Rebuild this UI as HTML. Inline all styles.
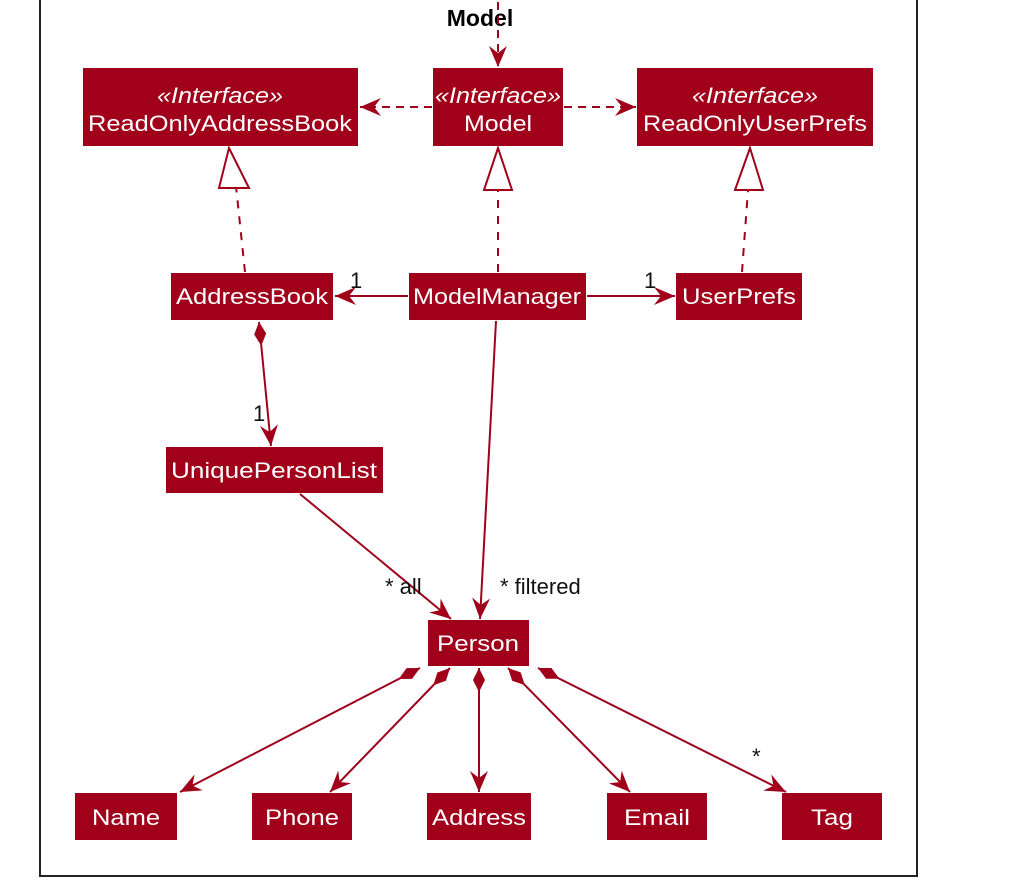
<!DOCTYPE html>
<html><head><meta charset="utf-8"><style>
html,body{margin:0;padding:0;background:#fff;width:1028px;height:896px;overflow:hidden}
text{font-family:"Liberation Sans",sans-serif}
</style></head><body>
<svg width="1028" height="896" viewBox="0 0 1028 896" xmlns="http://www.w3.org/2000/svg">
<defs>
<marker id="open" viewBox="0 0 22 22" refX="21" refY="11" markerWidth="22" markerHeight="22" markerUnits="userSpaceOnUse" orient="auto">
<path d="M0,2 L21,11 L0,20 L7,11 Z" fill="#A0001A"/>
</marker>
<marker id="dia" viewBox="0 0 24 12" refX="0" refY="6" markerWidth="24" markerHeight="12" markerUnits="userSpaceOnUse" orient="auto">
<path d="M0,6 L12,0 L24,6 L12,12 Z" fill="#A0001A"/>
</marker>
</defs>
<rect x="40" y="-5" width="877" height="881" fill="#fff" stroke="#222" stroke-width="2"/>
<text x="480" y="26" font-size="23" font-weight="bold" text-anchor="middle">Model</text>
<g stroke="#A0001A" stroke-width="2" fill="none">
<line x1="498" y1="2" x2="498" y2="67" stroke-dasharray="8,6" marker-end="url(#open)"/>
<line x1="432" y1="107" x2="360" y2="107" stroke-dasharray="8,6" marker-end="url(#open)"/>
<line x1="564" y1="107" x2="636" y2="107" stroke-dasharray="8,6" marker-end="url(#open)"/>
<line x1="245" y1="272" x2="236" y2="186" stroke-dasharray="8,8"/>
<line x1="498" y1="272" x2="498" y2="190" stroke-dasharray="8,8"/>
<line x1="742" y1="272" x2="748" y2="190" stroke-dasharray="8,8"/>
<path d="M229,148 L219,188 L249,188 Z" fill="#fff"/>
<path d="M498,148 L484,190 L512,190 Z" fill="#fff"/>
<path d="M750,148 L735,190 L763,190 Z" fill="#fff"/>
<line x1="408" y1="296" x2="335" y2="296" marker-end="url(#open)"/>
<line x1="587" y1="296" x2="675" y2="296" marker-end="url(#open)"/>
<line x1="259" y1="322" x2="271" y2="446" marker-start="url(#dia)" marker-end="url(#open)"/>
<line x1="300" y1="494" x2="451" y2="619" marker-end="url(#open)"/>
<line x1="496" y1="321" x2="480" y2="619" marker-end="url(#open)"/>
<line x1="420" y1="668" x2="180" y2="792" marker-start="url(#dia)" marker-end="url(#open)"/>
<line x1="450" y1="668" x2="330" y2="792" marker-start="url(#dia)" marker-end="url(#open)"/>
<line x1="479" y1="668" x2="479" y2="792" marker-start="url(#dia)" marker-end="url(#open)"/>
<line x1="508" y1="668" x2="630" y2="792" marker-start="url(#dia)" marker-end="url(#open)"/>
<line x1="538" y1="668" x2="786" y2="792" marker-start="url(#dia)" marker-end="url(#open)"/>
</g>
<g fill="#A0001A">
<rect x="83" y="68" width="275" height="78"/>
<rect x="433" y="68" width="130" height="78"/>
<rect x="637" y="68" width="236" height="78"/>
<rect x="171" y="273" width="162" height="47"/>
<rect x="409" y="273" width="177" height="47"/>
<rect x="676" y="273" width="126" height="47"/>
<rect x="166" y="447" width="217" height="46"/>
<rect x="428" y="620" width="101" height="46"/>
<rect x="75" y="793" width="102" height="47"/>
<rect x="252" y="793" width="100" height="47"/>
<rect x="427" y="793" width="104" height="47"/>
<rect x="607" y="793" width="100" height="47"/>
<rect x="782" y="793" width="100" height="47"/>
</g>
<g fill="#fff" font-size="22" text-anchor="middle">
<text x="220" y="103" font-style="italic" textLength="126" lengthAdjust="spacingAndGlyphs">«Interface»</text>
<text x="220" y="131" textLength="264" lengthAdjust="spacingAndGlyphs">ReadOnlyAddressBook</text>
<text x="498" y="103" font-style="italic" textLength="126" lengthAdjust="spacingAndGlyphs">«Interface»</text>
<text x="498" y="131" textLength="68" lengthAdjust="spacingAndGlyphs">Model</text>
<text x="755" y="103" font-style="italic" textLength="126" lengthAdjust="spacingAndGlyphs">«Interface»</text>
<text x="755" y="131" textLength="224" lengthAdjust="spacingAndGlyphs">ReadOnlyUserPrefs</text>
<text x="252" y="304" textLength="152" lengthAdjust="spacingAndGlyphs">AddressBook</text>
<text x="497" y="304" textLength="168" lengthAdjust="spacingAndGlyphs">ModelManager</text>
<text x="739" y="304" textLength="114" lengthAdjust="spacingAndGlyphs">UserPrefs</text>
<text x="274" y="478" textLength="206" lengthAdjust="spacingAndGlyphs">UniquePersonList</text>
<text x="478" y="651" textLength="82" lengthAdjust="spacingAndGlyphs">Person</text>
<text x="126" y="825" textLength="68" lengthAdjust="spacingAndGlyphs">Name</text>
<text x="302" y="825" textLength="74" lengthAdjust="spacingAndGlyphs">Phone</text>
<text x="479" y="825" textLength="94" lengthAdjust="spacingAndGlyphs">Address</text>
<text x="657" y="825" textLength="66" lengthAdjust="spacingAndGlyphs">Email</text>
<text x="832" y="825" textLength="42" lengthAdjust="spacingAndGlyphs">Tag</text>
</g>
<g fill="#111" font-size="22">
<text x="350" y="288">1</text>
<text x="644" y="288">1</text>
<text x="253" y="421">1</text>
<text x="385" y="594">* all</text>
<text x="500" y="594">* filtered</text>
<text x="752" y="764">*</text>
</g>
</svg>
</body></html>
